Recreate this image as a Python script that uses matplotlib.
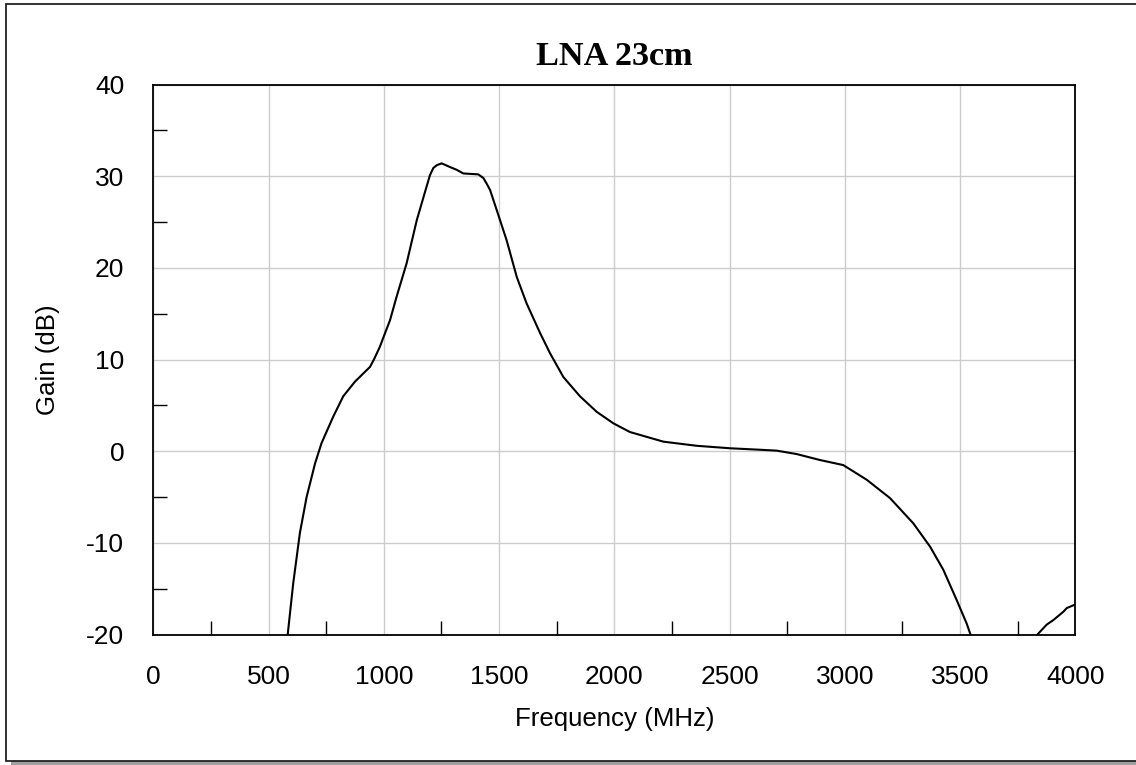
import matplotlib
matplotlib.use('Agg')
import matplotlib.pyplot as plt
from matplotlib.patches import Rectangle
from matplotlib.ticker import MultipleLocator

plt.rcParams['axes.unicode_minus'] = False

# Gain curve (MHz, dB); drawn clipped to the -20 dB floor
freq_main = [575, 583, 607, 636, 665, 702, 730, 781, 824, 875, 940, 957, 983,
             998, 1027, 1056, 1099, 1143, 1186, 1200, 1215, 1230, 1251, 1287,
             1316, 1345, 1410, 1432, 1446, 1461, 1490, 1533, 1577, 1620, 1678,
             1721, 1779, 1851, 1924, 1996, 2068, 2213, 2358, 2502, 2647, 2705,
             2791, 2892, 2993, 3095, 3196, 3297, 3370, 3427, 3485, 3529, 3547,
             3560]
gain_main = [-22, -20, -14.4, -8.9, -5.0, -1.3, 0.9, 3.8, 6.0, 7.6, 9.2, 10.0,
             11.4, 12.4, 14.3, 16.9, 20.5, 25.2, 28.9, 30.1, 30.9, 31.2, 31.4,
             31.0, 30.7, 30.3, 30.2, 29.8, 29.2, 28.5, 26.3, 23.0, 19.0, 16.1,
             12.9, 10.7, 8.1, 6.0, 4.3, 3.05, 2.1, 1.05, 0.6, 0.33, 0.15, 0.07,
             -0.3, -0.95, -1.5, -3.1, -5.1, -7.85, -10.4, -12.9, -16.2, -18.8,
             -20.1, -21.5]

freq_tail = [3820, 3835, 3876, 3905, 3948, 3963, 4000]
gain_tail = [-21, -20, -18.9, -18.4, -17.5, -17.1, -16.7]

x_ticks = [0, 500, 1000, 1500, 2000, 2500, 3000, 3500, 4000]
y_ticks = [-20, -10, 0, 10, 20, 30, 40]

fig = plt.figure(figsize=(11.36, 7.65), dpi=100)

# Outer frame with a grey drop shadow, kept behind the axes
fig.patches.append(Rectangle((11 / 1136, 0.0), 1.2, 4 / 765, transform=fig.transFigure,
                             facecolor='#a0a0a0', edgecolor='none', zorder=-3))
fig.patches.append(Rectangle((6 / 1136, 4 / 765), 1.2, 757 / 765, transform=fig.transFigure,
                             facecolor='white', edgecolor='#222222', linewidth=1.3, zorder=-2))

ax = fig.add_axes([153.3 / 1136, 1 - 634.7 / 765, 922 / 1136, 550.2 / 765])

ax.plot(freq_main, gain_main, color='black', linewidth=1.5,
        solid_joinstyle='round', solid_capstyle='round')
ax.plot(freq_tail, gain_tail, color='black', linewidth=1.5,
        solid_joinstyle='round', solid_capstyle='round')

ax.set_xlim(0, 4000)
ax.set_ylim(-20, 40)
ax.set_xticks(x_ticks)
ax.set_yticks(y_ticks)
ax.xaxis.set_minor_locator(MultipleLocator(250))
ax.yaxis.set_minor_locator(MultipleLocator(5))

ax.grid(True, which='major', color='#cccccc', linewidth=1.0)
ax.set_axisbelow(True)

ax.tick_params(which='major', length=0, labelsize=19, pad=0)
ax.tick_params(axis='x', which='major', pad=22)
ax.tick_params(axis='y', which='major', pad=21)
ax.tick_params(which='minor', direction='in', length=10, width=1.0, color='black')
for lab in ax.get_xticklabels() + ax.get_yticklabels():
    lab.set_fontfamily('Liberation Sans')

for sp in ax.spines.values():
    sp.set_color('black')
    sp.set_linewidth(1.3)

ax.set_xlabel('Frequency (MHz)', fontsize=18.6, fontfamily='Liberation Sans', labelpad=13)
ax.set_ylabel('Gain (dB)', fontsize=18.6, fontfamily='Liberation Sans', labelpad=19)
ax.set_title('LNA 23cm', fontsize=24.6, fontweight='bold', fontfamily='Liberation Serif', pad=14)

fig.savefig('out.png', dpi=100)
